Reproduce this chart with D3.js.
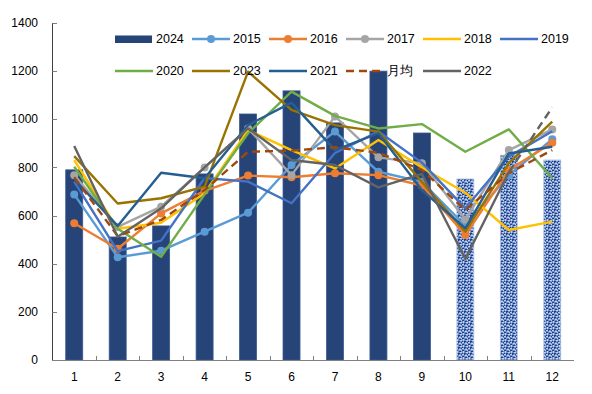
<!DOCTYPE html>
<html>
<head>
<meta charset="utf-8">
<script src="https://cdn.jsdelivr.net/npm/d3@7"></script>
<style>
  body { margin: 0; background: #fff; }
  text { font-family: "Liberation Sans", Arial, sans-serif; }
</style>
</head>
<body>
<div id="chart"></div>
<script>
// Data
var months = [1, 2, 3, 4, 5, 6, 7, 8, 9, 10, 11, 12];
var yTicks = [0, 200, 400, 600, 800, 1000, 1200, 1400];

var bars2024 = [790, 511, 557, 773, 1022, 1118, 985, 1200, 943, 752, 851, 831];

var s2015 = [688, 427, 454, 533, 612, 810, 949, 782, 740, 557, 768, 917];
var s2016 = [568, 462, 609, 703, 766, 759, 776, 768, 725, 519, 789, 903];
var s2017 = [768, 553, 637, 800, 962, 768, 1012, 842, 817, 584, 872, 958];
var s2018 = [830, 545, 570, 693, 955, 872, 796, 914, 800, 695, 540, 575];
var s2019 = [741, 452, 496, 756, 741, 651, 860, 949, 820, 630, 845, 950];
var s2020 = [803, 545, 429, 688, 942, 1115, 1014, 962, 980, 865, 958, 755];
var s2023 = [847, 650, 672, 720, 1198, 1039, 976, 949, 740, 533, 818, 990];
var s2021 = [751, 557, 778, 755, 976, 1069, 872, 942, 706, 547, 858, 886];
var avg = [759, 515, 582, 706, 865, 870, 884, 861, 790, 623, 776, 872];
var s2022 = [889, 512, 630, 800, 962, 831, 810, 717, 773, 420, 780, 1050];

// series in drawing / legend order
var series = [
  {name: "2015", values: s2015, color: "#5B9BD5", marker: true},
  {name: "2016", values: s2016, color: "#ED7D31", marker: true},
  {name: "2017", values: s2017, color: "#A5A5A5", marker: true},
  {name: "2018", values: s2018, color: "#FFC000"},
  {name: "2019", values: s2019, color: "#4472C4"},
  {name: "2020", values: s2020, color: "#70AD47"},
  {name: "2023", values: s2023, color: "#997300"},
  {name: "2021", values: s2021, color: "#255E91"},
  {name: "月均", values: avg, color: "#9E480E", dash: "8,5"},
  {name: "2022", values: s2022, color: "#636363", lastDashed: true}
];

var W = 592, H = 394;
var svg = d3.select("#chart").append("svg")
    .attr("width", W)
    .attr("height", H);

var x = d3.scaleBand().domain(months).range([52.5, 574]);
var y = d3.scaleLinear().domain([0, 1400]).range([360, 23]);

// texture for the last three bars
var defs = svg.append("defs");
var pat = defs.append("pattern")
    .attr("id", "tex")
    .attr("patternUnits", "userSpaceOnUse")
    .attr("width", 6).attr("height", 6);
pat.append("rect").attr("width", 6).attr("height", 6).attr("fill", "#6F8FCC");
[[0,0,2,1],[3,1,2,1],[1,3,1,2],[4,4,2,1],[5,2,1,1]].forEach(function(r) {
  pat.append("rect").attr("x", r[0]).attr("y", r[1]).attr("width", r[2]).attr("height", r[3])
     .attr("fill", "#BFD0F0");
});
[[2,0,1,1],[0,2,2,1],[3,3,2,1],[5,0,1,1],[2,5,2,1],[0,5,1,1]].forEach(function(r) {
  pat.append("rect").attr("x", r[0]).attr("y", r[1]).attr("width", r[2]).attr("height", r[3])
     .attr("fill", "#23417E");
});

// bars
var bw = 17;
svg.append("g").selectAll("rect")
    .data(bars2024)
    .enter().append("rect")
    .attr("x", function(d, i) { return x(months[i]) + x.bandwidth() / 2 - bw / 2; })
    .attr("y", function(d) { return y(d); })
    .attr("width", bw)
    .attr("height", function(d) { return y(0) - y(d); })
    .attr("fill", function(d, i) { return i >= 9 ? "url(#tex)" : "#264478"; })
    .attr("stroke", function(d, i) { return i >= 9 ? "#B4C7E7" : "#3A5A90"; })
    .attr("stroke-width", 0.8);

// axes
svg.append("line")
    .attr("x1", 52.5).attr("x2", 574)
    .attr("y1", 360.5).attr("y2", 360.5)
    .attr("stroke", "#808080").attr("stroke-width", 1);
svg.append("line")
    .attr("x1", 52.5).attr("x2", 52.5)
    .attr("y1", y(1400)).attr("y2", 360.5)
    .attr("stroke", "#404040").attr("stroke-width", 1);

svg.append("g").selectAll("line")
    .data(yTicks)
    .enter().append("line")
    .attr("x1", 52.5).attr("x2", 57)
    .attr("y1", function(d) { return Math.round(y(d)) + 0.5; })
    .attr("y2", function(d) { return Math.round(y(d)) + 0.5; })
    .attr("stroke", "#808080");

svg.append("g").selectAll("text")
    .data(yTicks)
    .enter().append("text")
    .attr("x", 38)
    .attr("y", function(d) { return y(d); })
    .attr("dy", "0.35em")
    .attr("text-anchor", "end")
    .style("font-size", "12px")
    .attr("fill", "#000")
    .text(function(d) { return d; });

// x ticks at category boundaries, pointing inward
svg.append("g").selectAll("line")
    .data(months.slice(1))
    .enter().append("line")
    .attr("x1", function(d) { return Math.round(x(d)) + 0.5; })
    .attr("x2", function(d) { return Math.round(x(d)) + 0.5; })
    .attr("y1", 356).attr("y2", 360.5)
    .attr("stroke", "#808080");

svg.append("g").selectAll("text")
    .data(months)
    .enter().append("text")
    .attr("x", function(d) { return x(d) + x.bandwidth() / 2; })
    .attr("y", 381)
    .attr("text-anchor", "middle")
    .style("font-size", "12px")
    .text(function(d) { return d; });

// lines
var cx = function(i) { return x(months[i]) + x.bandwidth() / 2; };
var line = d3.line()
    .x(function(d) { return cx(d.i); })
    .y(function(d) { return y(d.v); });

series.forEach(function(s) {
  var pts = s.values.map(function(v, i) { return {v: v, i: i}; });
  var solid = s.lastDashed ? pts.slice(0, pts.length - 1) : pts;
  svg.append("path")
      .datum(solid)
      .attr("fill", "none")
      .attr("stroke", s.color)
      .attr("stroke-width", 2.4)
      .attr("stroke-dasharray", s.dash || null)
      .attr("stroke-linejoin", "round")
      .attr("d", line);
  if (s.lastDashed) {
    svg.append("path")
        .datum(pts.slice(pts.length - 2))
        .attr("fill", "none")
        .attr("stroke", s.color)
        .attr("stroke-width", 2.4)
        .attr("stroke-dasharray", "8,5")
        .attr("d", line);
  }
  if (s.marker) {
    svg.append("g").selectAll("circle")
        .data(pts)
        .enter().append("circle")
        .attr("cx", function(d) { return cx(d.i); })
        .attr("cy", function(d) { return y(d.v); })
        .attr("r", 4)
        .attr("fill", s.color);
  }
});

// legend
var legendItems = [{name: "2024", bar: true}].concat(series);
var lg = svg.append("g");
legendItems.forEach(function(s, k) {
  var row = k < 6 ? 0 : 1;
  var col = k < 6 ? k : k - 6;
  var lx = 115 + col * 77;
  var ly = row === 0 ? 39 : 71;
  var g = lg.append("g");
  if (s.bar) {
    g.append("rect")
        .attr("x", lx).attr("y", ly - 3.5)
        .attr("width", 37).attr("height", 7.5)
        .attr("fill", "#264478");
  } else {
    g.append("line")
        .attr("x1", lx).attr("x2", lx + 38)
        .attr("y1", ly).attr("y2", ly)
        .attr("stroke", s.color)
        .attr("stroke-width", 2.4)
        .attr("stroke-dasharray", s.dash || null);
    if (s.marker) {
      g.append("circle")
          .attr("cx", lx + 19).attr("cy", ly).attr("r", 4)
          .attr("fill", s.color);
    }
  }
  g.append("text")
      .attr("x", lx + 41)
      .attr("y", ly)
      .attr("dy", "0.35em")
      .style("font-size", "12.5px")
      .attr("fill", "#000")
      .text(s.name);
});
</script>
</body>
</html>
